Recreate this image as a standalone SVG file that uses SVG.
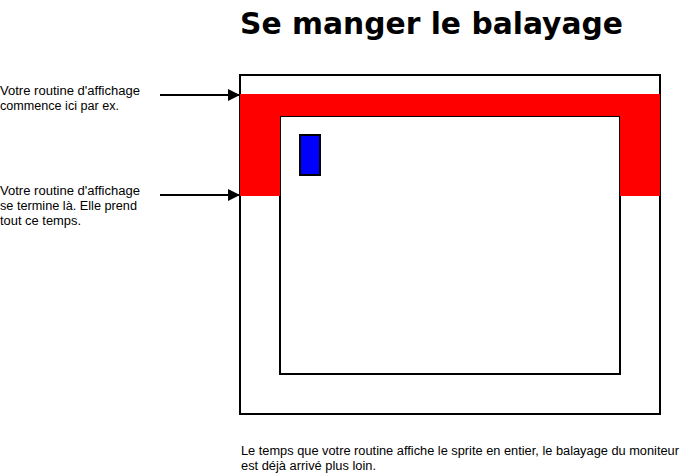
<svg xmlns="http://www.w3.org/2000/svg" width="685" height="475" viewBox="0 0 685 475">
<defs>
<style>
.t{font-family:"Liberation Sans","DejaVu Sans",sans-serif;font-size:12px;fill:#000}
.title{font-family:"DejaVu Sans","Liberation Sans",sans-serif;font-size:31px;font-weight:bold;fill:#000}
.frame{fill:none;stroke:#000;stroke-width:2}
.arrow{stroke:#000;stroke-width:2;fill:none;marker-end:url(#ah)}
</style>
<marker id="ah" viewBox="0 0 10 10" refX="10" refY="5" markerWidth="6" markerHeight="6" orient="auto" markerUnits="strokeWidth">
<path d="M0,0 L10,5 L0,10 z" fill="#000"/>
</marker>
</defs>
<rect width="685" height="475" fill="#fff"/>
<text class="title" x="240" y="34" textLength="383" lengthAdjust="spacingAndGlyphs">Se manger le balayage</text>
<g id="screen">
<rect class="frame" x="240" y="75" width="420" height="339"/>
<rect class="frame" x="280" y="116" width="340" height="258"/>
<path d="M240,94 H660 V196 H620 V116 H280 V196 H240 Z" fill="#f00"/>
</g>
<g id="sprite">
<rect x="300" y="135" width="20" height="40" fill="#00f" stroke="#000" stroke-width="2"/>
</g>
<g id="connectors">
<line class="arrow" x1="160" y1="95" x2="240" y2="95"/>
<line class="arrow" x1="160" y1="195" x2="240" y2="195"/>
</g>
<g id="label-start">
<text class="t" x="0" y="95" textLength="140" lengthAdjust="spacingAndGlyphs">Votre routine d'affichage</text>
<text class="t" x="0" y="110" textLength="119" lengthAdjust="spacingAndGlyphs">commence ici par ex.</text>
</g>
<g id="label-end">
<text class="t" x="0" y="195" textLength="140" lengthAdjust="spacingAndGlyphs">Votre routine d'affichage</text>
<text class="t" x="0" y="210" textLength="137" lengthAdjust="spacingAndGlyphs">se termine là. Elle prend</text>
<text class="t" x="0" y="225" textLength="81" lengthAdjust="spacingAndGlyphs">tout ce temps.</text>
</g>
<g id="caption">
<text class="t" x="241" y="455" textLength="438" lengthAdjust="spacingAndGlyphs">Le temps que votre routine affiche le sprite en entier, le balayage du moniteur</text>
<text class="t" x="241" y="470" textLength="135" lengthAdjust="spacingAndGlyphs">est déjà arrivé plus loin.</text>
</g>
</svg>
